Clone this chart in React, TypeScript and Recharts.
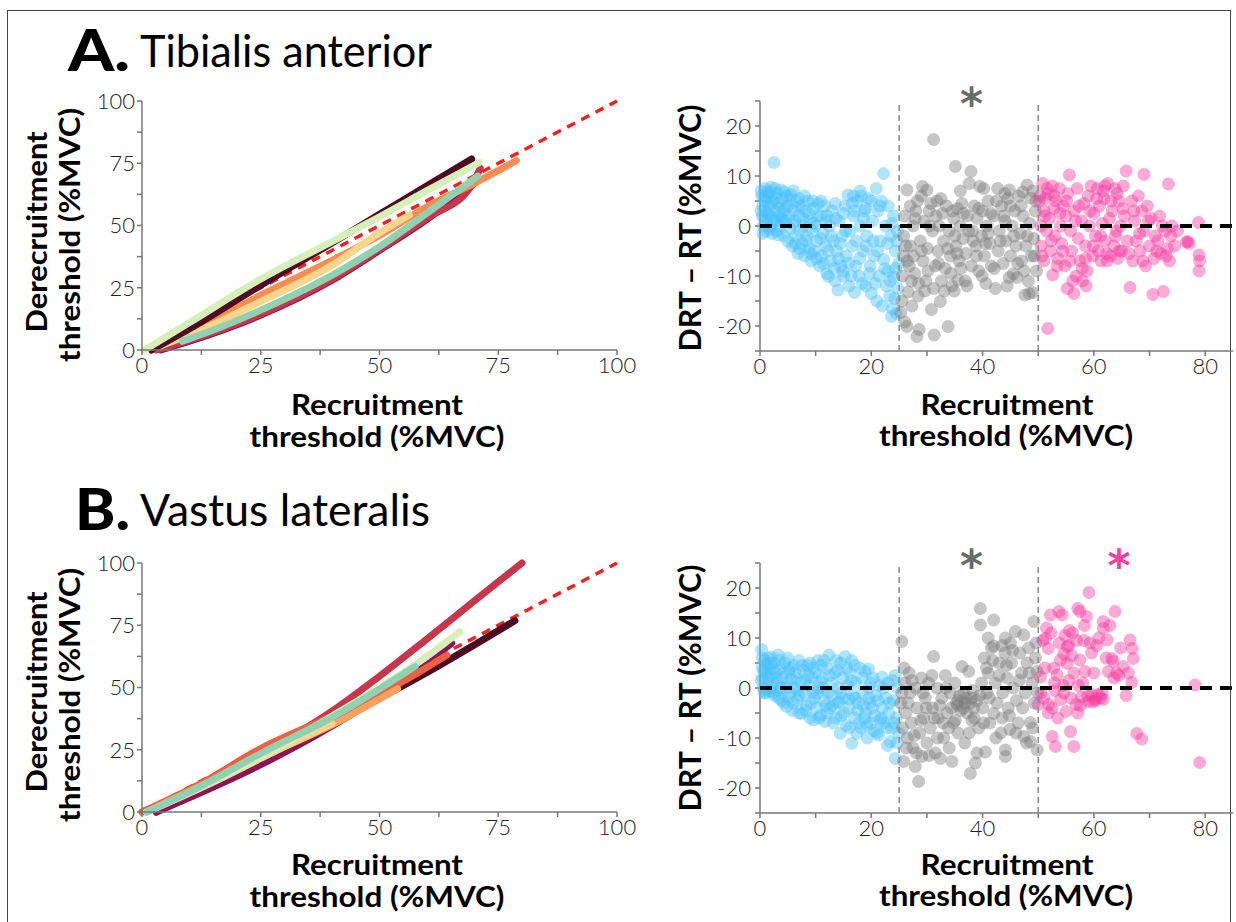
import React from "react";
import { LineChart, Line, ScatterChart, Scatter, XAxis, YAxis, ReferenceDot } from "recharts";

const FONT = "Lato, 'Open Sans', 'DejaVu Sans', sans-serif";

type Pt = [number, number];

// ---- threshold curves (RT, DRT), %MVC ----
const identity: Pt[] = [[0, 0], [100, 100]];

// A. Tibialis anterior
const taMaroon: Pt[] = [[2, 0], [10, 8.5], [25, 26], [40, 43], [50, 54.5], [60, 66], [69.4, 76.7]];
const taGreen: Pt[] = [[0.5, 0], [10, 11], [25, 28.5], [40, 43.5], [50, 53.5], [60, 64], [71, 75.3]];
const taPurple: Pt[] = [[4, 0], [10, 3.5], [25, 14], [40, 28], [50, 40], [60, 52.5], [70.7, 68]];
const taCrimson: Pt[] = [[3, 0], [10, 4], [25, 14.5], [40, 28.5], [50, 40.5], [60, 53], [69, 65], [71.2, 73]];
const taOrange: Pt[] = [[2, 0], [10, 7], [25, 22], [40, 36], [50, 46], [60, 57.5], [70, 67], [78.8, 76]];
const taYellow: Pt[] = [[2, 0.5], [10, 6], [25, 19.5], [40, 34], [50, 47], [56.3, 54.2]];
const taTeal: Pt[] = [[8.5, 3.5], [15, 8], [25, 16], [40, 30], [50, 41.5], [60, 55], [70.7, 69.8]];

// B. Vastus lateralis
const vlMaroon: Pt[] = [[3, 0], [20, 15.5], [40, 35.5], [60, 56], [78.5, 76.8]];
const vlPurple: Pt[] = [[3, 0], [15, 10], [25, 19], [40, 34.5], [55, 53], [65.2, 67.8]];
const vlCrimson: Pt[] = [[0, 0], [10, 8], [20, 17.5], [30, 28.5], [40, 40.5], [50, 54.5], [60, 69.5], [70, 84.8], [80, 100]];
const vlRedOrange: Pt[] = [[0, 0], [12, 11], [25, 25.5], [40, 38.5], [55, 52.5], [64.2, 63]];
const vlOrange: Pt[] = [[1, 0], [25, 22], [40, 35], [53.8, 49.5]];
const vlYellow: Pt[] = [[1, 0], [15, 12], [25, 21.5], [40, 35.5]];
const vlGreen: Pt[] = [[1, 0], [20, 17], [40, 38.5], [60, 62.5], [66.9, 72.4]];
const vlTeal: Pt[] = [[1, 0], [12, 10], [25, 23.5], [40, 38], [57.5, 58.5]];

// ---- DRT - RT vs RT scatter ----
const taBlue: Pt[] = [
  [0.3, 6], [0.5, 4], [0.4, 2], [0.6, 0], [0.8, 7.5], [1, 5], [1, 3], [1.2, 1], [1.1, -1], [1.5, 6.5], [1.6, 4], [1.8, 2],
  [2, 0], [2, 7.8], [2.2, -1.5], [2.5, 12.7], [2.4, 5], [2.6, 3], [2.8, 1], [3, 6.5], [3, -1], [3.2, 4.5], [3.4, 2], [3.6, 0],
  [3.8, 7.2], [4, 5.5], [4.2, 3], [4.3, -2], [4.5, 1], [4.8, 6], [5, 4], [5, -3], [5.2, 2], [5.4, -0.5], [5.6, 6.2], [5.8, -4],
  [6, 3], [6.2, 1], [6.4, -2], [6.6, 5], [6.8, -5.5], [7, 2], [7.2, -1], [7.4, 4], [7.6, -3.5], [7.8, 0], [8, -6], [8.2, 3],
  [8.4, -2], [8.6, 5], [8.8, -4.5], [9, 1], [9.2, -7], [9.4, -1], [9.6, 3.5], [9.8, -5], [10, 0], [10.2, -3], [10.5, 4.5],
  [10.7, -8], [11, -6], [11, 2], [11.3, -1.5], [11.6, 4], [11.8, -4], [12, -9.5], [12.3, -10.1], [12.5, 0], [12.7, -7],
  [13, 3], [13.2, -3], [13.5, -11], [13.8, -5], [14, -12.8], [14.2, 1], [14.5, -8], [14.8, -2], [15, -10], [15.3, 4],
  [15.5, -6], [15.8, 6.2], [16, -12], [16.2, -1], [16.5, -4], [16.8, 2], [17, -13.3], [17.2, -8], [17.5, 5], [17.8, -10],
  [18, 0], [18.2, 6], [18.5, -5], [18.8, 3], [19, -12], [19.2, -2], [19.5, 5.5], [19.8, -8], [20, -13.5], [20.2, 1],
  [20.5, -6], [20.9, 7.5], [21, -15], [21.2, 3], [21.4, -10], [21.6, -3], [21.8, 5], [22, -16], [22.2, 10.5], [22.2, -6.7],
  [22.5, 0], [22.7, -12], [23, 4], [23, -9], [23.3, -14], [23.5, -2], [23.6, -18.1], [23.8, -16.5], [24, -10.2], [24, 2],
  [24.3, -5], [24.5, -17.5], [24.7, -1], [24.8, -12.5], [24.9, -7.5], [0.2, 3], [0.7, 5.5], [1.3, 6.8], [1.4, 2.5],
  [2.1, 4.5], [2.9, 5.5], [3.5, 3.5], [0.9, 1.5], [1.7, -0.5], [2.3, 1.5], [0.2, 7], [4, 1.5], [4.6, 3.8],
  [0.5, -1.5], [1.2, 5.8], [1.9, 6.8], [2.7, 7.5], [3.3, -1.8], [3.9, 1], [4.4, 6.8], [5.3, 5.2], [5.9, 0.5], [6.3, -3.5],
  [6.9, 3.8], [7.1, -4.5], [7.7, 1.5], [8.3, -3], [8.9, 2.5], [9.1, -5.5], [9.7, 0.5], [10.1, -6.5], [10.4, 2], [10.9, -2.5],
  [11.4, -7.5], [11.9, 1], [12.2, -5], [12.8, -2], [13.3, -8.5], [13.6, 1.5], [14.1, -6.5], [14.4, -3.5], [14.9, -9],
  [15.4, -1], [15.9, -7.5], [16.4, -10], [16.6, 4.5], [17.3, -3], [17.9, -6.5], [18.4, -11.5], [18.6, 1.5], [19.1, -4],
  [19.7, -9.5], [20.3, -3], [20.7, -11.5], [21.1, -5], [21.5, 4], [22.4, -8.5], [22.9, -3.5], [23.4, -11], [23.7, 0.5],
  [24.2, -14.5], [24.6, -3], [24.4, -8.5], [20, 5], [18, 7], [16.8, 6], [19, 3.5], [17, 3], [15, 2.5], [13.5, 4.5], [12, 2],
  [11, 5], [9.5, 5], [8, 6], [6, 7], [7, 5.5],
];
const taGray: Pt[] = [
  [25.3, -17.3], [25.5, -15], [25.6, -10], [25.8, -6], [25.8, -2], [26, 2], [26, -19.2], [26.4, -20.1], [26.4, 7.2],
  [26.6, -13.2], [26.8, -8], [27, -4], [27, 4], [27.2, -11], [27.5, 0], [27.6, -6], [27.8, -9.5], [28, 3], [28.2, -22.1],
  [28.4, -14], [28.6, -20.7], [28.8, -3], [29, 6], [29.2, 7.9], [29.3, -7], [29.5, 1], [29.8, -11], [30, 7.2], [30.1, -4.5],
  [30.4, 3], [30.8, -16.7], [31, -1], [31.2, 17.3], [31.3, -21.8], [31.5, -8], [31.8, 5], [32, -5], [32.2, 0], [32.4, -15.1],
  [32.6, -11], [32.8, 2.5], [33, -3], [33.3, -8.5], [33.5, 4], [33.8, -20.1], [34, -1], [34.2, -6], [34.5, -12], [34.8, 1.5],
  [34.9, -13], [35.1, 11.9], [35.2, -4], [35.5, 3.5], [35.6, -10.8], [35.8, -7], [36, 0], [36.3, 4.5], [36.5, -2.5],
  [36.9, -11], [37, -5.5], [37.3, 2], [37.6, 8.5], [37.9, 10.9], [38, -8], [38.2, -1], [38.5, 4], [38.8, -4], [39, 1.5],
  [39.3, -9], [39.5, 7.9], [39.8, -2], [40, 3], [40.3, -6], [40.6, -11.5], [40.8, 0], [41, 5], [41.3, -3.5], [41.6, -8],
  [42, 2], [42.3, -12.5], [42.7, 7.5], [42.8, -5], [43, -1], [43.4, 4], [43.7, -7.5], [44, 1], [44.2, -3], [44.5, 5.5],
  [44.8, -10.3], [44.8, 7.2], [45, -6], [45.3, 0], [45.5, -9.6], [45.8, 3], [46, -4], [46.2, -10.3], [46.5, 6], [46.8, -1.5],
  [47, -7], [47.3, 2], [47.6, -13.8], [47.8, -4], [48, 8.2], [48.2, -11], [48.5, 0.5], [48.6, 5.6], [48.8, -6], [49, 7],
  [49, -13.3], [49.2, -2.5], [49.5, 3], [49.7, -9],
  [26.2, -4], [27.3, -16], [27.9, 1.5], [28.5, -11.5], [29, -5], [29.6, -13], [30.2, -9], [30.5, 0], [31.2, -12.5], [31.6, 2],
  [32.1, -7.5], [32.5, 5.5], [33.1, -13], [33.7, -4.5], [34.3, -9.5], [34.6, 3], [35, -2], [35.4, -5.5], [36.1, -8.5],
  [36.6, 2.5], [37.2, -12], [37.5, -1], [38.3, -3], [38.9, -6], [39.3, 3.5], [39.9, -10], [40.5, -3.5], [41, -1.5], [41.5, 2.5],
  [42.1, -8.5], [42.5, 5], [43.2, -3], [43.8, 2], [44.4, -12], [45, 4], [45.6, -2], [46.3, -7.5], [46.9, 4], [47.5, -9],
  [48, -2], [48.4, -13.5], [49.3, -6], [49.6, 5], [26.5, -7], [28.3, 5], [30.7, 4.5], [36, 7], [40.2, 7.5], [44, 6.5],
  [47.2, 6.8],
];
const taPink: Pt[] = [
  [50.3, 6], [50.5, 0], [50.5, -4], [50.8, 8.5], [51, 3], [51, -7], [51.3, 5.5], [51.5, -1], [51.7, -20.5], [51.8, 6.5],
  [52, 1.5], [52.2, -5], [52.5, 8], [52.6, -9.8], [52.8, 3.5], [53, -2], [53.2, 5], [53.5, -6.5], [53.8, 7.5], [54, 0],
  [54.2, -3.5], [54.5, 4], [54.8, -8], [55, 2], [55.2, -12.5], [55.3, 6.5], [55.6, 10.2], [55.8, -1], [56, -5], [56.4, -13.5],
  [56.5, 3], [56.8, -10], [57, 7.5], [57.2, -2.5], [57.5, -7], [57.8, 1], [58, -11], [58.2, 4.5], [58.5, -4], [58.8, -9],
  [59, 6], [59.2, 0], [59.5, 8], [59.8, -6], [60, 2.5], [60.3, -2], [60.6, 7.5], [60.8, -5], [61, 4], [61.3, -7], [61.5, 0.5],
  [61.8, 5.5], [62, -3], [62.3, -5.5], [62.5, 8.5], [62.8, 1.5], [63, -6], [63.3, 3], [63.6, -4], [63.8, 7.5], [64, -1],
  [64.3, -6.5], [64.5, 5], [64.8, 0], [65, -5], [65.3, 8], [65.5, 2], [65.8, 11], [66, -3], [66.5, -12.3], [66.8, 5],
  [67, -7], [67.3, 1], [67.6, -3], [68, 6], [68.3, -5], [68.6, 3], [69, 10.3], [69, -1], [69.3, -8], [69.6, 4], [70, -4],
  [70.3, 1.5], [70.6, -13.7], [70.8, -6.5], [71, -2], [71.5, -3], [71.8, 2], [72, -5.5], [72.5, -13.1], [72.8, -1],
  [73.2, -4.5], [73.4, 8.4], [73.6, -7], [74, 0], [74.5, -4], [75, -1], [76.9, -3.1], [77.1, -3.5], [78.8, 0.7], [78.9, -5.8],
  [79, -7], [78.9, -9],
  [50.2, 5], [50.7, -6], [51.2, 2], [51.6, 7.5], [52.3, -3], [52.9, 6], [53.4, -8], [53.9, 2.5], [54.4, -5], [55.1, 5],
  [55.7, -7], [56.2, -11], [56.7, 1], [57.3, 4], [57.9, -8.5], [58.6, -12], [59.3, 3], [59.9, -4], [60.5, 5.5], [61.2, -2],
  [61.7, 7], [62.4, -7], [63.1, 5], [63.9, -2], [64.6, -5], [65.2, 3.5], [66.3, -5.5], [67.2, 3], [68.2, -1.5], [68.8, -7],
  [69.8, 1], [71.3, -5], [72.3, 0], [73, -6], [73.8, -2], [76.6, -3.2], [64.2, 6.5], [62, 8], [58.5, -6.5],
];

const vlBlue: Pt[] = [
  [0.3, 7.7], [0.4, 4], [0.5, 2], [0.6, 0], [0.8, 5.5], [1, 3], [1, -1], [1.3, 1], [1.5, 6], [1.6, 4], [1.8, -0.5], [2, 2.5],
  [2.2, 0.5], [2.5, 5], [2.6, -1.5], [2.8, 3], [3, 1], [3.3, 6.6], [3.4, -2], [3.6, 4], [3.8, 0], [4, 2], [4.2, -3], [4.5, 5],
  [4.8, -3.7], [5, 1], [5.2, 3.5], [5.5, -1], [5.8, -4.5], [6, 4.5], [6.2, 0], [6.5, 2], [6.8, -2.5], [7, -5], [7.3, 1],
  [7.5, -5.1], [7.8, 3.5], [8, -1], [8.3, -3.5], [8.6, 4.5], [8.8, 0.5], [9, -6], [9.3, 2], [9.6, -6.4], [9.8, -2], [10, 3],
  [10.2, -4], [10.4, 5.5], [10.6, 0], [10.9, -5.5], [11.2, 2], [11.5, -2.5], [11.7, -6.7], [12, 4], [12.2, -1], [12.4, 6.6],
  [12.6, -4], [12.9, 1], [13.2, -7], [13.4, 3], [13.7, 5.5], [13.9, -3], [14.1, 0], [14.4, -9.1], [14.6, -5.5], [14.8, 2],
  [15, -2], [15.3, 6.3], [15.5, -7.5], [15.7, 0.5], [16, -4], [16.2, 3], [16.5, -11.1], [16.7, -1.5], [17, -6], [17.2, 1],
  [17.4, -9.1], [17.7, -3], [18, 4], [18.2, -8], [18.5, -1], [18.9, 3.3], [19, -5], [19.3, -10], [19.5, 0], [19.8, -3],
  [20, -7], [20.3, 2], [20.6, -5.5], [20.8, -1.5], [21, -9], [21.3, -9.4], [21.5, 0.5], [21.9, 2.2], [22, -4], [22.3, -7],
  [22.6, -2], [22.9, -11.5], [23, 1], [23.2, -5], [23.4, -10.7], [23.7, -8], [24, -2.5], [24.3, 2.5], [24.3, -14.1],
  [24.5, -6], [24.7, 0], [24.9, -9], [0.2, 1.5], [0.7, 3.5], [1.2, 4.8], [2.3, 3.8], [3.1, -0.5], [4.3, 3], [5.6, 1.8],
  [6.7, -0.5], [8.1, 1.5], [9.5, -0.8], [10.8, 1.2], [11.8, -3.5], [13, -1.5], [14.2, -2.8], [16, -2.2], [17.5, -4.5],
  [18.8, -6], [19.6, -2], [20.2, -4], [21.8, -6],
  [0.4, 6], [0.9, -0.5], [1.4, 2], [1.9, 5], [2.4, -1], [2.9, 2], [3.5, 5.5], [3.9, -2.5], [4.6, 0], [5.1, -2], [5.4, 4],
  [6, -3], [6.4, 3], [7.1, -1.5], [7.6, 4.5], [8.2, -4.5], [8.7, 2.5], [9.2, -3], [9.7, 4], [10.3, -1], [10.6, -6], [11, 4.5],
  [11.4, 0], [12.1, -5], [12.5, 2.5], [13.1, -3.5], [13.6, -6], [14, 3.5], [14.5, -1], [15.1, -5], [15.6, 4], [16.1, -8],
  [16.4, 1.5], [17.1, -2], [17.8, -7], [18.3, 2], [18.6, -3.5], [19.2, -7.5], [19.9, 1], [20.5, -8.5], [21.2, -2.5],
  [21.6, -6.5], [22.2, 0], [22.8, -8], [23.3, -3], [23.8, 1.5], [24.1, -7], [24.6, -11], [0.8, -1], [2, 6.2], [5, 6], [7, 5.5],
  [9, 5], [11.5, 5.5], [14.5, 5], [17, 4.5], [19.5, 3.8], [16.5, 5.5],
];
const vlGray: Pt[] = [
  [25.3, -3], [25.5, 9.3], [25.6, -8], [25.8, -14.7], [26, 1], [26.2, -5], [26.5, -10], [26.8, 3], [27, -1], [27.2, -7],
  [27.5, -12], [27.9, -15.7], [28, 0], [28.2, -4], [28.5, -18.7], [28.7, -9], [29, 2], [29.1, -13.7], [29.4, -6], [29.7, -2],
  [30, -11], [30.3, 1], [30.6, -8], [31, -4], [31.2, 6.3], [31.5, -13], [31.8, 0], [32, -6], [32.4, -14.1], [32.7, -2],
  [33, -10], [33.3, 2.5], [33.6, -5], [34, -12], [34.2, -1], [34.5, -14.7], [34.8, -7], [35, 1], [35.3, -3], [35.6, -9],
  [35.9, -1.5], [36.3, 4.3], [36.5, -4], [36.8, -11], [37, -2], [37.5, 3.3], [37.8, -17.1], [37.8, -3], [38.2, -0.5],
  [38.5, -6], [38.7, -15], [39, -2.5], [39.3, -8], [39.6, 15.9], [39.6, 12.6], [39.8, 1], [40, -4], [40.3, 6], [40.5, -12.8],
  [40.8, -1], [41, 3], [41.3, -7], [41.6, 8], [42, 13.6], [42, 8.4], [42, -5.1], [42.3, 1], [42.6, -3], [43, 5], [43.3, -9],
  [43.6, -1], [44, 7], [44.1, 10], [44.1, -12.4], [44.1, -13.7], [44.4, 2], [44.6, -4], [44.9, -8.3], [45.2, 5], [45.5, 0],
  [45.9, 11.3], [46.1, -2.5], [46.4, -7], [46.7, 7], [47, 3], [47.4, 10.6], [47.4, -9.7], [47.7, -1], [48, 5], [48.3, 8],
  [48.6, -10.7], [48.6, -6.9], [48.9, 1], [49.2, 13.3], [49.3, -3], [49.5, 6], [49.8, 3.3], [49.8, -12.4], [49.9, -1],
  [25.5, -1], [25.9, 4], [26.3, -12], [26.6, -3], [27.3, 1.5], [27.7, -9.5], [28.1, -13], [28.9, -6.5], [29.3, -1], [29.9, -4],
  [30.4, -13.5], [30.9, 2.5], [31.3, -6], [31.9, -10], [32.3, -3.5], [32.9, -7], [33.4, 0], [33.9, -8], [34.4, -4],
  [35.1, -6.5], [35.6, -2.5], [36.1, -4.5], [36.6, -1], [37.2, -5], [37.6, -9], [38, -2], [38.4, -4], [39, -13], [39.5, -1.5],
  [40.2, -7], [40.7, 4], [41.2, -2], [41.8, 5.5], [42.4, -10], [43, 2.5], [43.5, -6], [44.3, 4.5], [44.8, -5.5], [45.4, 7.5],
  [46, -9], [46.6, 1.5], [47.2, -4], [47.9, -11], [48.4, 3], [49, -8], [49.6, 9], [45, 9], [41, 10], [43.5, 8.5], [35.5, -3.5],
  [36.8, -3], [38.1, -6.5],
];
const vlPink: Pt[] = [
  [50, -3.3], [50.4, 2.2], [50.8, 9.5], [51, -2], [51.3, 9.9], [51.5, 12], [51.8, 7.9], [51.9, -3.3], [52.2, 14.6],
  [52.5, -9.7], [52.5, -4], [53.1, -11.7], [53.4, 2.6], [53.7, 15.3], [54, 5.6], [54, -2.3], [54.3, 14.6], [54.5, 0.5],
  [55, -4.7], [55.2, 8.3], [55.2, 4.9], [55.5, 1.5], [55.8, -8.7], [56, 6.5], [56.4, -11.7], [56.8, -3.3], [57.1, 15.9],
  [57.1, -5], [57.5, 15.3], [57.5, 5.6], [58, 1], [58.4, 3.3], [58.7, 14.3], [59, -2.7], [59.1, 19.1], [59.3, 9], [59.6, -1.3],
  [60, 3], [60.5, 8.5], [60.8, -1.3], [61.2, -2], [61.7, 13.3], [61.7, 11.9], [61.7, -2.3], [62.4, 9.6], [62.6, 3.3],
  [63.2, 5.9], [63.5, 5.3], [63.8, 15.3], [64.1, 3], [64.5, 2.5], [65.3, 4.3], [66.5, 9.6], [66.8, 1.1], [66.9, 7.9],
  [67.1, 5.9], [67.7, -9.1], [68.6, -10.2], [78.2, 0.6], [79, -14.9], [53, -0.5], [56.2, 11], [58.2, 9.5], [52.8, 4],
  [57.8, -1.8], [60.3, -2.5], [55.5, 8.5], [54.8, 10.5],
  [50.5, -1], [51.2, 4], [51.8, -5], [52.3, 11], [52.9, 1], [53.5, -6], [53.8, 9], [54.6, -1], [55.6, 11.5], [56.4, 3],
  [56.9, 9.5], [57.6, -3.5], [58.3, 12.5], [58.9, -1.5], [59.6, 7], [60.2, -2.2], [60.9, 10], [61.5, -1], [62.2, 6],
  [62.9, 12.5], [63.6, 2], [64.8, 8], [65.8, -1.5], [66.2, 3], [54.6, 6.8], [55.9, -2], [57.2, 0.5], [59.8, -2.8],
];

// ---- axis ticks / guides / annotations ----
const thresholdTicks = [0, 12.5, 25, 37.5, 50, 62.5, 75, 87.5, 100];
const rtTicks = [0, 10, 20, 30, 40, 50, 60, 70, 80];
const diffTicks = [-25, -20, -15, -10, -5, 0, 5, 10, 15, 20, 25];
const zeroLine: Pt[] = [[0, 0], [85, 0]];
const edge25: Pt[] = [[25, -25], [25, 25]];
const edge50: Pt[] = [[50, -25], [50, 25]];
const taStars = [{ x: 38, color: "#6b6b6b" }];
const vlStars = [{ x: 38, color: "#6b6b6b" }, { x: 64.5, color: "#f0409e" }];

const toXY = (pts: Pt[]) => pts.map(([x, y]) => ({ x, y }));

const LINE_COLORS = {
  maroon: "#4d0a22",
  purple: "#8c1456",
  crimson: "#c8364c",
  redOrange: "#ef6042",
  orange: "#f98c50",
  yellow: "#fcd58c",
  green: "#d6efb8",
  teal: "#8ed2b2",
};

const taCurves = [
  { pts: taPurple, color: LINE_COLORS.purple },
  { pts: taCrimson, color: LINE_COLORS.crimson },
  { pts: taOrange, color: LINE_COLORS.orange },
  { pts: taYellow, color: LINE_COLORS.yellow },
  { pts: taTeal, color: LINE_COLORS.teal },
  { pts: taMaroon, color: LINE_COLORS.maroon },
  { pts: taGreen, color: LINE_COLORS.green },
];
const vlCurves = [
  { pts: vlMaroon, color: LINE_COLORS.maroon },
  { pts: vlPurple, color: LINE_COLORS.purple },
  { pts: vlCrimson, color: LINE_COLORS.crimson },
  { pts: vlRedOrange, color: LINE_COLORS.redOrange },
  { pts: vlOrange, color: "#fca05e" },
  { pts: vlYellow, color: LINE_COLORS.yellow },
  { pts: vlGreen, color: LINE_COLORS.green },
  { pts: vlTeal, color: LINE_COLORS.teal },
];

const tickStyle = { fill: "#222", fontSize: 22, fontFamily: FONT, fontWeight: 300 };
const axisStroke = { stroke: "#777", strokeWidth: 1.5 };

function ThresholdChart({ top, curves }: { top: number; curves: { pts: Pt[]; color: string }[] }) {
  // plot area: x 142..617, y top+20..top+269
  return (
    <div style={{ position: "absolute", left: 92, top, width: 545, height: 304 }}>
      <LineChart width={545} height={304} margin={{ top: 20, right: 20, bottom: 5, left: 0 }}>
        <XAxis
          type="number"
          dataKey="x"
          domain={[0, 100]}
          ticks={thresholdTicks}
          interval={0}
          tickFormatter={(v: number) => (v % 25 === 0 ? String(v) : "")}
          height={30}
          tick={tickStyle}
          tickSize={5}
          tickMargin={2}
          axisLine={axisStroke}
          tickLine={axisStroke}
        />
        <YAxis
          type="number"
          dataKey="y"
          domain={[0, 100]}
          ticks={thresholdTicks}
          interval={0}
          tickFormatter={(v: number) => (v % 25 === 0 ? String(v) : "")}
          width={50}
          tick={tickStyle}
          tickSize={5}
          tickMargin={2}
          axisLine={axisStroke}
          tickLine={axisStroke}
        />
        <Line
          data={toXY(identity)}
          dataKey="y"
          stroke="#ff1f1f"
          strokeWidth={3.5}
          strokeDasharray="9 7"
          dot={false}
          isAnimationActive={false}
        />
        {curves.map((c, i) => (
          <Line
            key={i}
            data={toXY(c.pts)}
            dataKey="y"
            type="monotone"
            stroke={c.color}
            strokeWidth={7}
            strokeLinecap="round"
            dot={false}
            isAnimationActive={false}
          />
        ))}
      </LineChart>
    </div>
  );
}

const dot = (props: any) => (
  <circle cx={props.cx} cy={props.cy} r={6.5} fill={props.fill} fillOpacity={0.43} />
);
const noDot = () => <g />;

function DiffChart({
  top,
  blue,
  gray,
  pink,
  stars,
}: {
  top: number;
  blue: Pt[];
  gray: Pt[];
  pink: Pt[];
  stars: { x: number; color: string }[];
}) {
  // plot area: x 760..1233, y top+40..top+290
  return (
    <div style={{ position: "absolute", left: 705, top, width: 531, height: 325 }}>
      <ScatterChart width={531} height={325} margin={{ top: 40, right: 3, bottom: 5, left: 0 }}>
        <XAxis
          type="number"
          dataKey="x"
          domain={[0, 85]}
          ticks={rtTicks}
          interval={0}
          tickFormatter={(v: number) => (v % 20 === 0 ? String(v) : "")}
          height={30}
          tick={tickStyle}
          tickSize={5}
          tickMargin={2}
          axisLine={axisStroke}
          tickLine={axisStroke}
        />
        <YAxis
          type="number"
          dataKey="y"
          domain={[-25, 25]}
          ticks={diffTicks}
          interval={0}
          tickFormatter={(v: number) => (v % 10 === 0 ? String(v) : "")}
          width={55}
          tick={tickStyle}
          tickSize={5}
          tickMargin={4}
          axisLine={axisStroke}
          tickLine={axisStroke}
        />
        <Scatter data={toXY(blue)} fill="#48c1fa" shape={dot} isAnimationActive={false} />
        <Scatter data={toXY(gray)} fill="#7c7c7c" shape={dot} isAnimationActive={false} />
        <Scatter data={toXY(pink)} fill="#f5399f" shape={dot} isAnimationActive={false} />
        {[edge25, edge50].map((e, i) => (
          <Scatter
            key={i}
            data={toXY(e)}
            shape={noDot}
            line={{ stroke: "#8a8a8a", strokeWidth: 1.5, strokeDasharray: "6 4" }}
            isAnimationActive={false}
          />
        ))}
        <Scatter
          data={toXY(zeroLine)}
          shape={noDot}
          line={{ stroke: "#000", strokeWidth: 4, strokeDasharray: "12 8" }}
          isAnimationActive={false}
        />
        {stars.map((s) => (
          <ReferenceDot
            key={s.x}
            x={s.x}
            y={25}
            r={0}
            shape={(p: any) => (
              <text
                x={p.cx}
                y={p.cy + 18}
                textAnchor="middle"
                fontSize={44}
                fontWeight={700}
                fontFamily="'DejaVu Sans', sans-serif"
                fill={s.color}
              >
                *
              </text>
            )}
          />
        ))}
      </ScatterChart>
    </div>
  );
}

function Labels({ dy }: { dy: number }) {
  const bold = { fontFamily: FONT, fontWeight: 700, fill: "#000" };
  return (
    <g>
      <text transform={`translate(47,${232 + dy}) rotate(-90)`} textAnchor="middle" fontSize={29} textLength={201} lengthAdjust="spacingAndGlyphs" {...bold}>
        Derecruitment
      </text>
      <text transform={`translate(80,${235 + dy}) rotate(-90)`} textAnchor="middle" fontSize={29} textLength={254} lengthAdjust="spacingAndGlyphs" {...bold}>
        threshold (%MVC)
      </text>
      <text x={377} y={415 + dy} textAnchor="middle" fontSize={28} textLength={172} lengthAdjust="spacingAndGlyphs" {...bold}>
        Recruitment
      </text>
      <text x={377} y={447 + dy} textAnchor="middle" fontSize={28} textLength={255} lengthAdjust="spacingAndGlyphs" {...bold}>
        threshold (%MVC)
      </text>
      <text transform={`translate(701,${228 + dy}) rotate(-90)`} textAnchor="middle" fontSize={31} textLength={247} lengthAdjust="spacingAndGlyphs" {...bold}>
        DRT – RT (%MVC)
      </text>
      <text x={1007} y={415 + dy} textAnchor="middle" fontSize={28} textLength={173} lengthAdjust="spacingAndGlyphs" {...bold}>
        Recruitment
      </text>
      <text x={1006} y={446 + dy} textAnchor="middle" fontSize={28} textLength={254} lengthAdjust="spacingAndGlyphs" {...bold}>
        threshold (%MVC)
      </text>
    </g>
  );
}

export default function App() {
  return (
    <div style={{ position: "absolute", left: 0, top: 0, width: 1236, height: 922, background: "#fff", overflow: "hidden" }}>
      <svg width={1236} height={922} style={{ position: "absolute", left: 0, top: 0 }}>
        <rect x={7.5} y={10.5} width={1223} height={930} fill="none" stroke="#444" strokeWidth={1} />
        <text x={68} y={71} fontSize={58} fontWeight={900} fontFamily={FONT} textLength={62} lengthAdjust="spacingAndGlyphs">
          A.
        </text>
        <text x={140} y={67} fontSize={44} fontWeight={400} fontFamily={FONT} textLength={292} lengthAdjust="spacingAndGlyphs">
          Tibialis anterior
        </text>
        <text x={75} y={530} fontSize={58} fontWeight={900} fontFamily={FONT} textLength={55} lengthAdjust="spacingAndGlyphs">
          B.
        </text>
        <text x={140} y={526} fontSize={44} fontWeight={400} fontFamily={FONT} textLength={290} lengthAdjust="spacingAndGlyphs">
          Vastus lateralis
        </text>
        <Labels dy={0} />
        <Labels dy={460} />
      </svg>
      <ThresholdChart top={81} curves={taCurves} />
      <DiffChart top={61} blue={taBlue} gray={taGray} pink={taPink} stars={taStars} />
      <ThresholdChart top={543} curves={vlCurves} />
      <DiffChart top={523} blue={vlBlue} gray={vlGray} pink={vlPink} stars={vlStars} />
    </div>
  );
}
